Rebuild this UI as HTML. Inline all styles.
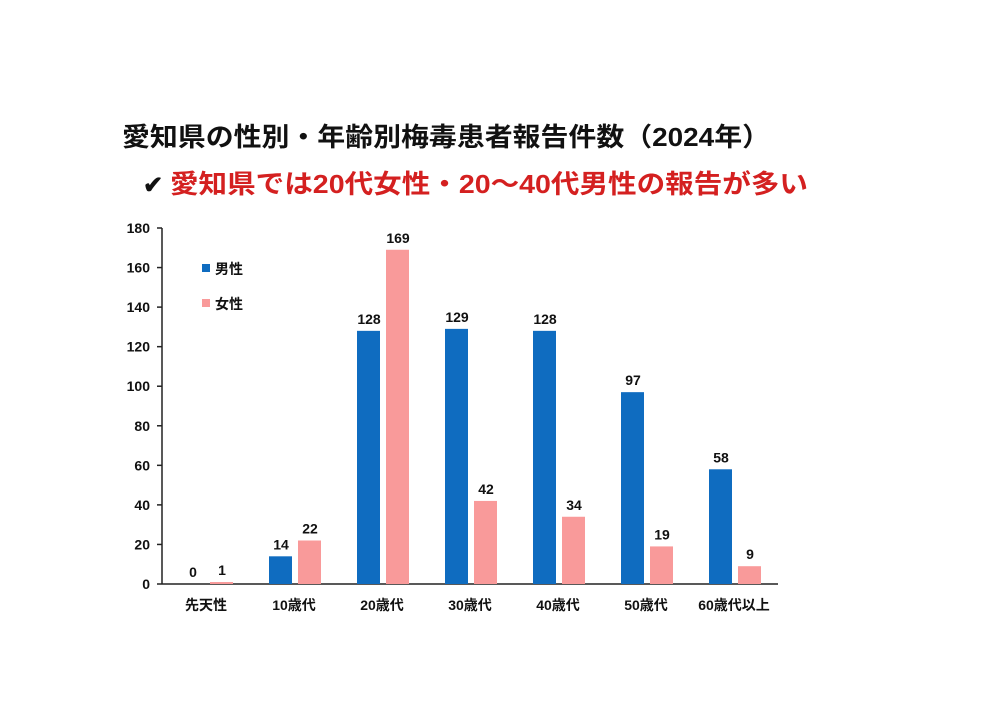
<!DOCTYPE html>
<html><head><meta charset="utf-8"><style>
body{margin:0;background:#fff;}
svg{display:block;font-family:"Liberation Sans","Noto Sans CJK JP",sans-serif;}
</style></head><body>
<svg width="1002" height="708" viewBox="0 0 1002 708">
<text x="122" y="146" font-size="26" font-weight="bold" fill="#111" textLength="648" lengthAdjust="spacingAndGlyphs">愛知県の性別・年齢別梅毒患者報告件数（2024年）</text>
<text x="143" y="193" font-size="24" font-weight="bold" fill="#111">✔</text>
<text x="170" y="193" font-size="26" font-weight="bold" fill="#d42020" textLength="638" lengthAdjust="spacingAndGlyphs">愛知県では20代女性・20～40代男性の報告が多い</text>
<g id="plot"></g>
<g>
<rect x="202" y="264" width="8" height="8" fill="#0f6cc0"/>
<text x="215" y="274" font-size="14" font-weight="bold" fill="#111">男性</text>
<rect x="202" y="299" width="8" height="8" fill="#f99a9a"/>
<text x="215" y="309" font-size="14" font-weight="bold" fill="#111">女性</text>
</g>
</svg>
<script>
const categories=["先天性","10歳代","20歳代","30歳代","40歳代","50歳代","60歳代以上"];
const male=[0,14,128,129,128,97,58];
const female=[1,22,169,42,34,19,9];
const yTicks=[0,20,40,60,80,100,120,140,160,180];
const NS="http://www.w3.org/2000/svg";
const g=document.getElementById("plot");
const x0=162,bw=88,y0=584,yTop=228,yMax=180;
const y=v=>y0-(v/yMax)*(y0-yTop);
const cx=i=>x0+bw*i+bw/2;
function mk(t,a,txt){const e=document.createElementNS(NS,t);for(const k in a)e.setAttribute(k,a[k]);if(txt!==undefined)e.textContent=txt;g.appendChild(e);return e;}
let e;
e=mk("line",{x1:x0,y1:yTop,x2:x0,y2:y0,stroke:"#222","stroke-width":1.5});


e=mk("line",{x1:x0,y1:y0,x2:x0+bw*categories.length,y2:y0,stroke:"#222","stroke-width":1.5});


yTicks.forEach(t=>{
 e=mk("line",{x1:x0-5,y1:y(t),x2:x0,y2:y(t),stroke:"#222","stroke-width":1.5});
 
 
 e=mk("text",{x:x0-12,y:y(t)+5,"text-anchor":"end","font-size":14,"font-weight":"bold",fill:"#111"},t);
 
 
});
categories.forEach((c,i)=>{
 const c0=cx(i);
 e=mk("rect",{x:c0-25,y:y(male[i]),width:23,height:y0-y(male[i]),fill:"#0f6cc0"});
 
 
 e=mk("rect",{x:c0+4,y:y(female[i]),width:23,height:y0-y(female[i]),fill:"#f99a9a"});
 
 
 e=mk("text",{x:c0-13,y:y(male[i])-7,"text-anchor":"middle","font-size":14,"font-weight":"bold",fill:"#111"},male[i]);
 
 
 e=mk("text",{x:c0+16,y:y(female[i])-7,"text-anchor":"middle","font-size":14,"font-weight":"bold",fill:"#111"},female[i]);
 
 
 e=mk("text",{x:c0,y:y0+26,"text-anchor":"middle","font-size":14,"font-weight":"bold",fill:"#111"},c);
 
 
});
</script>
</body></html>
